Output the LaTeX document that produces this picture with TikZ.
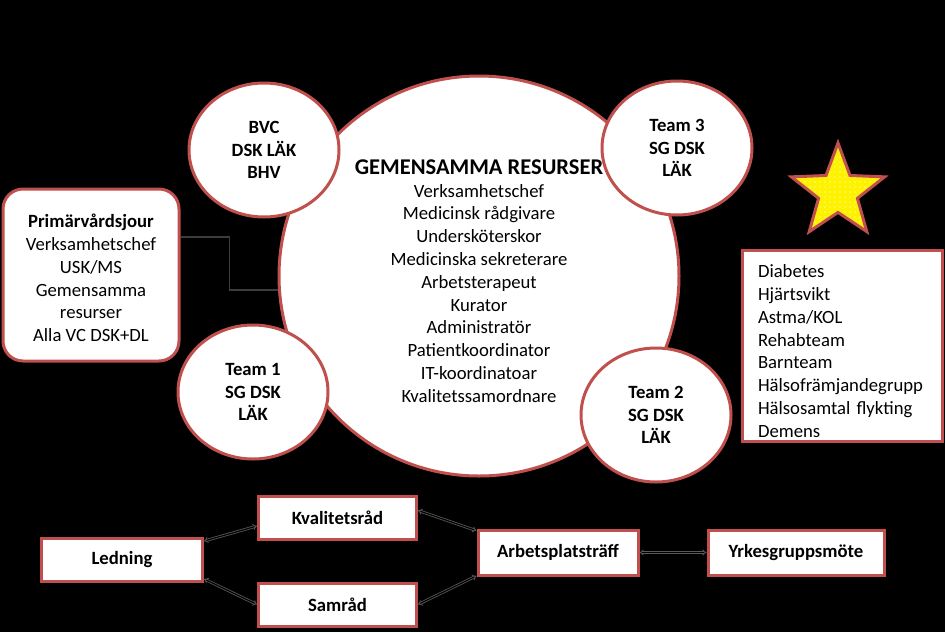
\documentclass[tikz,border=0pt]{standalone}
\usepackage{fontspec}
\setmainfont{Carlito}
\usetikzlibrary{
    arrows.meta, % for the double arrow tips
    patterns.meta, % for the dots in the star
    shapes.geometric, % ellipse and star shapes
    positioning % for placing nodes relative to other nodes
}
\definecolor{redline}{HTML}{C0504D}
\definecolor{wire}{HTML}{3C3C3C}

\begin{document}
\begin{tikzpicture}[
    x=1pt,y=-1pt,
    font=\fontsize{18.7}{22.8}\selectfont,
    every node/.style = {align=center,inner sep=0pt},
    red line/.style   = {draw=redline,line width=3pt},
    team/.style       = {ellipse,red line,fill=white,minimum width=150pt,minimum height=134pt,font=\fontsize{18.7}{22.7}\selectfont\bfseries},
    meeting/.style    = {rectangle,red line,fill=white,minimum width=158pt,minimum height=43pt,font=\fontsize{18.7}{22.7}\selectfont\bfseries},
    link/.style       = {draw=black!65,double=black,double distance=1.2pt,line width=.8pt,arrows={Implies[scale=2.3]-Implies[scale=2.3]}}
]

% background
    \fill [black] (0,0) rectangle (945,632);

% shared resources and the teams round it

    \node [circle,red line,fill=white,minimum size=400pt,
           label={[yshift=-5pt]center:{{\fontsize{22.5}{24}\selectfont\bfseries GEMENSAMMA RESURSER}\\Verksamhetschef\\Medicinsk rådgivare\\Undersköterskor\\Medicinska sekreterare\\Arbetsterapeut\\Kurator\\Administratör\\Patientkoordinator\\IT-koordinatoar\\Kvalitetssamordnare}}] (res) at (479,276) {};

    \node [team] (bvc)   at (264,150) {BVC\\DSK LÄK\\BHV};
    \node [team] (team3) at (677,148) {Team 3\\SG DSK\\LÄK};
    \node [team] (team1) at (253,392) {Team 1\\SG DSK\\LÄK};
    \node [team] (team2) at (656,415) {Team 2\\SG DSK\\LÄK};

    \node [rectangle,rounded corners=20pt,red line,fill=white,minimum width=176pt,minimum height=172pt,
           label={[yshift=-3pt]center:{\textbf{Primärvårdsjour}\\Verksamhetschef\\USK/MS\\Gemensamma\\resurser\\Alla VC DSK+DL}}] (pvj) at (91,275) {};

    \node [rectangle,red line,fill=white,minimum width=200pt,minimum height=191pt,
           label={[yshift=-5pt,text width=168pt,align=left]center:{Diabetes\\Hjärtsvikt\\Astma/KOL\\Rehabteam\\Barnteam\\Hälsofrämjandegrupp\\Hälsosamtal flykting\\Demens}}] (groups) at (842,346) {};

    \node [star,star points=5,star point ratio=2.4,minimum size=98pt,red line,preaction={fill=yellow},
           pattern={Dots[distance=5pt,radius=.6pt]},pattern color=white] (badge) at (838,192) {};

    \draw [wire,line width=1.5pt] ([yshift=38pt]pvj.east) -- ++(49,0) |- (res.184);

% meetings

    \node [meeting,minimum width=161pt] (led)  at (122,560)   {Ledning};
    \node [meeting]                     (kval) at (337.5,517.5) {Kvalitetsråd};
    \node [meeting]                     (sam)  at (337.5,604.5) {Samråd};
    \node [meeting,minimum width=160pt,minimum height=45pt] (arb) at (558,552.5) {Arbetsplatsträff};
    \node [meeting,minimum width=176pt,minimum height=45pt] (yrk) at (796,552.5) {Yrkesgruppsmöte};

    \draw [link] (led.13)   -- (kval.186);
    \draw [link] (led.-13)  -- (sam.west);
    \draw [link] (kval.5)   -- (arb.165);
    \draw [link] (sam.east) -- (arb.196);
    \draw [link] (arb.east) -- (yrk.west);

\end{tikzpicture}
\end{document}
